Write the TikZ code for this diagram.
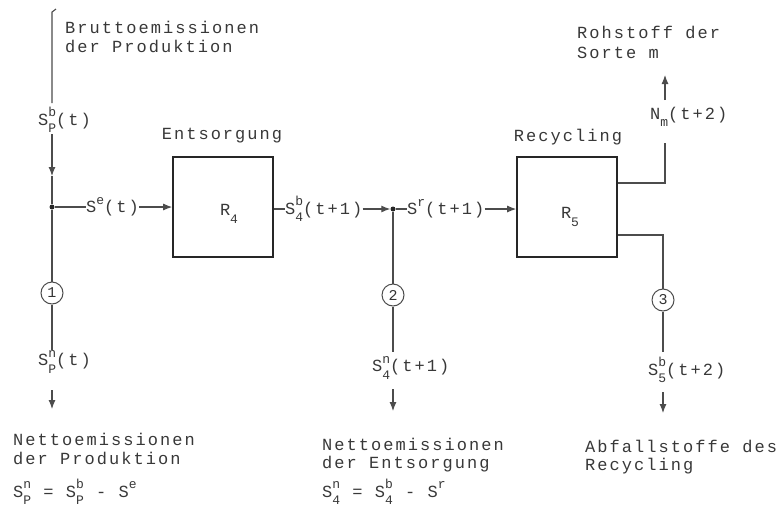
\documentclass[tikz,border=0pt]{standalone}
\usepackage{fontspec}
\setmonofont[LetterSpace=12]{Liberation Mono}
\usetikzlibrary{arrows.meta}
\newcommand\supsub[2]{\makebox[0pt][l]{\raisebox{0.5em}{\fontsize{13}{13}\selectfont #1}}\raisebox{-0.45em}{\fontsize{13}{13}\selectfont #2}}
\newcommand\supo[1]{\raisebox{0.5em}{\fontsize{13}{13}\selectfont #1}}
\newcommand\subo[1]{\raisebox{-0.45em}{\fontsize{13}{13}\selectfont #1}}
\tikzset{
  txt/.style={font=\ttfamily\fontsize{17}{19}\selectfont, text=black!78, inner sep=0pt},
  blk/.style={draw=black!85, line width=1.6pt, minimum width=100pt, minimum height=100pt, inner sep=0pt},
  ln/.style={draw=black!70, line width=1.1pt},
  arr/.style={ln, -{Latex[length=9pt,width=7pt]}},
  dot/.style={circle, fill=black!85, inner sep=0pt, minimum size=5pt},
  num/.style={circle, draw=black!70, line width=1pt, minimum size=22pt, inner sep=0pt, font=\ttfamily\fontsize{15}{15}\selectfont, text=black!80}
}
\begin{document}
\begin{tikzpicture}[x=1pt,y=-1pt]
\useasboundingbox (0,0) rectangle (783,517);
% boxes
\node[blk] (r4) at (223,207) {};
\node[blk] (r5) at (567,207) {};
\node[txt] (r4t) at (229,214) {R\subo{4}};
\node[txt] (r5t) at (570,217) {R\subo{5}};
\node[txt] (ent) at (222,136) {Entsorgung};
\node[txt] (rec) at (568,137) {Recycling};
% top-left text
\node[txt, anchor=base west] (bt1) at (65,33) {Bruttoemissionen};
\node[txt, anchor=base west] (bt2) at (65,52) {der Produktion};
% left chain
\coordinate (t0) at (52,12);
\coordinate (t1) at (52,103);
\node[txt, anchor=west] (spb) at (38,120) {S\supsub{b}{P}(t)};
\coordinate (t2) at (52,134);
\coordinate (a1) at (52,176);
\node[dot] (j1) at (52,207) {};
\draw[ln] (56,9) -- (t0) -- (t1);
\draw[arr] (t2) -- (a1);
\draw[ln] (a1) -- (j1);
\node[txt, anchor=west] (se) at (86,207) {S\supo{e}(t)};
\draw[ln] (j1) -- (se.west);
\draw[arr] (se.east) -- (r4.west);
\node[num] (c1) at (52,293) {1};
\draw[ln] (j1) -- (c1);
\coordinate (b1) at (52,350);
\draw[ln] (c1) -- (b1);
\node[txt, anchor=west] (spn) at (38,362) {S\supsub{n}{P}(t)};
\coordinate (d1a) at (52,390);
\coordinate (d1b) at (52,409);
\draw[arr] (d1a) -- (d1b);
\node[txt, anchor=base west] (np1) at (13,445) {Nettoemissionen};
\node[txt, anchor=base west] (np2) at (13,464) {der Produktion};
\node[txt, anchor=base west] (npf) at (13,497) {S\supsub{n}{P} = S\supsub{b}{P} - S\supo{e}};
% middle
\node[txt, anchor=west] (s4b) at (285,209) {S\supsub{b}{4}(t+1)};
\draw[ln] (r4.east |- s4b.west) -- (s4b.west);
\node[dot] (j2) at (393,209) {};
\draw[arr] (s4b.east) -- (j2.west);
\node[txt, anchor=west] (sr) at (407,209) {S\supo{r}(t+1)};
\draw[ln] (j2) -- (sr.west);
\draw[arr] (sr.east) -- (r5.west |- sr.east);
\node[num] (c2) at (393,295) {2};
\draw[ln] (j2) -- (c2);
\coordinate (b2) at (393,352);
\draw[ln] (c2) -- (b2);
\node[txt, anchor=west] (s4n) at (372,368) {S\supsub{n}{4}(t+1)};
\coordinate (d2a) at (393,389);
\coordinate (d2b) at (393,411);
\draw[arr] (d2a) -- (d2b);
\node[txt, anchor=base west] (ne1) at (322,450) {Nettoemissionen};
\node[txt, anchor=base west] (ne2) at (322,468) {der Entsorgung};
\node[txt, anchor=base west] (nef) at (322,497) {S\supsub{n}{4} = S\supsub{b}{4} - S\supo{r}};
% right upper
\coordinate (u0) at (r5.east |- 0,183);
\coordinate (u1) at (665,183);
\coordinate (u2) at (665,143);
\draw[ln] (u0) -- (u1) -- (u2);
\node[txt, anchor=west] (nm) at (650,117) {N\subo{m}(t+2)};
\coordinate (u3) at (665,100);
\coordinate (u4) at (665,75);
\draw[arr] (u3) -- (u4);
\node[txt, anchor=base west] (ro1) at (577,38) {Rohstoff der};
\node[txt, anchor=base west] (ro2) at (577,58) {Sorte m};
% right lower
\coordinate (l0) at (r5.east |- 0,235);
\coordinate (l1) at (663,235);
\node[num] (c3) at (663,300) {3};
\draw[ln] (l0) -- (l1) -- (c3);
\coordinate (b3) at (663,352);
\draw[ln] (c3) -- (b3);
\node[txt, anchor=west] (s5b) at (648,370) {S\supsub{b}{5}(t+2)};
\coordinate (d3a) at (663,392);
\coordinate (d3b) at (663,413);
\draw[arr] (d3a) -- (d3b);
\node[txt, anchor=base west] (ab1) at (585,452) {Abfallstoffe des};
\node[txt, anchor=base west] (ab2) at (585,470) {Recycling};
\end{tikzpicture}
\end{document}
